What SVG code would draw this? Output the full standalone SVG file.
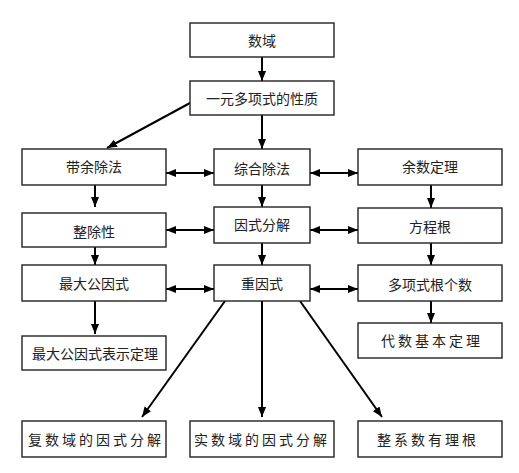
<svg xmlns="http://www.w3.org/2000/svg" width="519" height="473" viewBox="0 0 519 473">
<style>
.b{fill:#fff;stroke:#222;stroke-width:1.4}
.t{font-family:"Noto Sans CJK SC","Noto Sans",sans-serif;font-size:14px;fill:#222;text-anchor:middle;dominant-baseline:central}
.w{letter-spacing:3px}
.c{stroke:#000;stroke-width:2;fill:none}
</style>
<defs>
<marker id="a" markerUnits="userSpaceOnUse" markerWidth="10" markerHeight="10" viewBox="0 0 10 10" refX="10" refY="5" orient="auto-start-reverse">
<path d="M0,1 L10,5 L0,9 Z" fill="#000"/>
</marker>
</defs>
<rect width="519" height="473" fill="#fff"/>
<g id="connectors">
<line class="c" x1="262" y1="57" x2="262" y2="81" marker-end="url(#a)"/>
<line class="c" x1="190" y1="103" x2="107" y2="148" marker-end="url(#a)"/>
<line class="c" x1="262" y1="115" x2="262" y2="149" marker-end="url(#a)"/>
<line class="c" x1="166" y1="173" x2="214" y2="173" marker-start="url(#a)" marker-end="url(#a)"/>
<line class="c" x1="310" y1="173" x2="358" y2="173" marker-start="url(#a)" marker-end="url(#a)"/>
<line class="c" x1="166" y1="230" x2="214" y2="230" marker-start="url(#a)" marker-end="url(#a)"/>
<line class="c" x1="310" y1="230" x2="358" y2="230" marker-start="url(#a)" marker-end="url(#a)"/>
<line class="c" x1="166" y1="289" x2="214" y2="289" marker-start="url(#a)" marker-end="url(#a)"/>
<line class="c" x1="310" y1="289" x2="358" y2="289" marker-start="url(#a)" marker-end="url(#a)"/>
<line class="c" x1="95" y1="185" x2="95" y2="207" marker-end="url(#a)"/>
<line class="c" x1="262" y1="185" x2="262" y2="207" marker-end="url(#a)"/>
<line class="c" x1="431" y1="185" x2="431" y2="208" marker-end="url(#a)"/>
<line class="c" x1="95" y1="247" x2="95" y2="265" marker-end="url(#a)"/>
<line class="c" x1="262" y1="243" x2="262" y2="265" marker-end="url(#a)"/>
<line class="c" x1="431" y1="243" x2="431" y2="265" marker-end="url(#a)"/>
<line class="c" x1="95" y1="301" x2="95" y2="334" marker-end="url(#a)"/>
<line class="c" x1="431" y1="301" x2="431" y2="323" marker-end="url(#a)"/>
<line class="c" x1="225" y1="301" x2="142" y2="417" marker-end="url(#a)"/>
<line class="c" x1="262" y1="301" x2="262" y2="417" marker-end="url(#a)"/>
<line class="c" x1="300" y1="301" x2="382" y2="417" marker-end="url(#a)"/>
</g>
<g id="n1"><rect class="b" x="190" y="23" width="144" height="34"/><text class="t" x="262" y="40">数域</text></g>
<g id="n2"><rect class="b" x="190" y="81" width="144" height="34"/><text class="t" x="262" y="98">一元多项式的性质</text></g>
<g id="n3"><rect class="b" x="22" y="149" width="144" height="36"/><text class="t" x="94" y="166">带余除法</text></g>
<g id="n4"><rect class="b" x="214" y="149" width="96" height="36"/><text class="t" x="262" y="168">综合除法</text></g>
<g id="n5"><rect class="b" x="358" y="149" width="144" height="36"/><text class="t" x="430" y="166">余数定理</text></g>
<g id="n6"><rect class="b" x="22" y="213" width="144" height="34"/><text class="t" x="94" y="231">整除性</text></g>
<g id="n7"><rect class="b" x="214" y="207" width="96" height="36"/><text class="t" x="262" y="224">因式分解</text></g>
<g id="n8"><rect class="b" x="358" y="208" width="144" height="35"/><text class="t" x="430" y="226">方程根</text></g>
<g id="n9"><rect class="b" x="22" y="265" width="144" height="36"/><text class="t" x="94" y="283">最大公因式</text></g>
<g id="n10"><rect class="b" x="214" y="265" width="96" height="36"/><text class="t" x="262" y="283">重因式</text></g>
<g id="n11"><rect class="b" x="358" y="265" width="144" height="36"/><text class="t" x="430" y="284">多项式根个数</text></g>
<g id="n12"><rect class="b" x="22" y="336" width="144" height="34"/><text class="t" x="95" y="353">最大公因式表示定理</text></g>
<g id="n13"><rect class="b" x="358" y="323" width="144" height="35"/><text class="t w" x="432" y="340">代数基本定理</text></g>
<g id="n14"><rect class="b" x="22" y="421" width="144" height="36"/><text class="t w" x="96" y="439">复数域的因式分解</text></g>
<g id="n15"><rect class="b" x="190" y="421" width="144" height="36"/><text class="t w" x="262" y="439">实数域的因式分解</text></g>
<g id="n16"><rect class="b" x="358" y="421" width="144" height="36"/><text class="t w" x="428" y="439">整系数有理根</text></g>
</svg>
